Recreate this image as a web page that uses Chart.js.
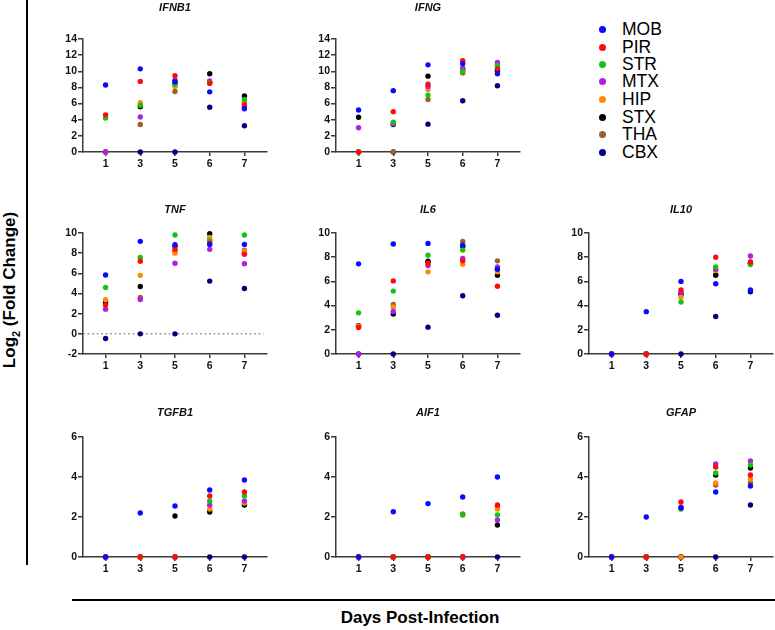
<!DOCTYPE html>
<html><head><meta charset="utf-8">
<script src="https://cdn.jsdelivr.net/npm/chart.js@4.4.1/dist/chart.umd.min.js"></script>
<style>
html,body{margin:0;padding:0;background:#fff;}
body{width:775px;height:630px;position:relative;overflow:hidden;font-family:"Liberation Sans",Arial,sans-serif;}
.panel{position:absolute;}
.vline{position:absolute;left:26px;top:0;width:2px;height:565px;background:#000;}
.hline{position:absolute;left:72px;top:599px;width:703px;height:2px;background:#000;}
.ylab{position:absolute;left:11px;top:290px;transform:translate(-50%,-50%) rotate(-90deg);white-space:nowrap;font-weight:bold;font-size:17px;color:#000;}
.xlab{position:absolute;left:420px;top:618px;transform:translate(-50%,-50%);white-space:nowrap;font-weight:bold;font-size:17px;color:#000;}
.leg{position:absolute;left:599px;height:18px;line-height:18px;font-size:17.5px;color:#000;white-space:nowrap;}
.leg i{display:inline-block;width:7px;height:7px;border-radius:50%;vertical-align:middle;margin-right:16px;position:relative;top:-1px;}
</style></head><body>
<div class="vline"></div>
<div class="hline"></div>
<div class="ylab">Log<sub style="font-size:11px">2</sub> (Fold Change)</div>
<div class="xlab">Days Post-Infection</div>
<div id="legend"></div>
<script>
// ---- data ----
const DAYS = ['1', '3', '5', '6', '7'];
const SERIES = ['MOB', 'PIR', 'STR', 'MTX', 'HIP', 'STX', 'THA', 'CBX'];
// each gene: rows in SERIES order, values for DAYS
const IFNB1 = [
  [8.3, 10.3, 8.7, 7.45, 5.35],
  [4.6, 8.75, 9.45, 8.5, 5.85],
  [4.2, 5.8, 8.4, 8.6, 6.5],
  [0, 4.35, 8.9, 8.8, 5.6],
  [0, 6.1, 8.1, 8.6, 6.0],
  [0, 5.6, 8.5, 9.7, 6.95],
  [0, 3.4, 7.5, 8.6, 6.2],
  [0, 0, 0, 5.55, 3.25]
];
const IFNG = [
  [5.2, 7.6, 10.8, 10.95, 9.7],
  [0, 5.0, 8.4, 11.3, 10.3],
  [0, 3.7, 7.05, 10.0, 10.7],
  [3.0, 3.5, 8.1, 10.4, 11.1],
  [0, 3.6, 7.75, 10.2, 10.8],
  [4.3, 3.4, 9.4, 10.2, 10.1],
  [0, 0, 6.5, 9.8, 10.2],
  [0, 0, 3.45, 6.35, 8.2]
];
const TNF = [
  [5.83, 9.17, 8.84, 8.87, 8.87],
  [2.85, 7.2, 8.4, 9.0, 7.9],
  [4.6, 7.58, 9.8, 9.2, 9.8],
  [2.45, 3.4, 7.0, 8.38, 6.95],
  [3.38, 5.8, 8.0, 9.57, 8.2],
  [3.1, 4.7, 8.7, 9.93, 8.0],
  [3.3, 3.6, 8.2, 9.3, 8.3],
  [-0.46, 0, 0, 5.23, 4.5]
];
const IL6 = [
  [7.45, 9.09, 9.14, 9.0, 7.0],
  [2.19, 6.04, 7.48, 7.7, 5.6],
  [3.4, 5.2, 8.17, 8.59, 7.0],
  [0, 3.52, 7.31, 7.9, 7.2],
  [2.3, 3.88, 6.79, 7.42, 6.8],
  [2.33, 3.3, 7.67, 8.9, 6.5],
  [2.3, 4.1, 7.6, 9.3, 7.7],
  [0, 0, 2.22, 4.82, 3.2]
];
const IL10 = [
  [0, 3.5, 6.0, 5.8, 5.3],
  [0, 0, 5.3, 8.0, 7.6],
  [0, 0, 4.3, 7.2, 7.4],
  [0, 0, 5.1, 7.0, 8.1],
  [0, 0, 4.7, 6.9, 7.6],
  [0, 0, 5.0, 6.5, 7.5],
  [0, 0, 4.9, 6.6, 7.5],
  [0, 0, 0, 3.1, 5.15]
];
const TGFB1 = [
  [0, 2.2, 2.55, 3.35, 3.85],
  [0, 0, 0, 3.05, 3.25],
  [0, 0, 0, 2.8, 3.05],
  [0, 0, 0, 2.6, 2.8],
  [0, 0, 0, 2.4, 2.7],
  [0, 0, 2.05, 2.25, 2.6],
  [0, 0, 0, 2.35, 2.65],
  [0, 0, 0, 0, 0]
];
const AIF1 = [
  [0, 2.26, 2.67, 3.0, 4.0],
  [0, 0, 0, 0, 2.6],
  [0, 0, 0, 2.1, 2.1],
  [0, 0, 0, 0, 1.85],
  [0, 0, 0, 0, 2.4],
  [0, 0, 0, 0, 1.6],
  [0, 0, 0, 2.15, 2.5],
  [0, 0, 0, 0, 0]
];
const GFAP = [
  [0, 2.0, 2.45, 3.25, 3.55],
  [0, 0, 2.75, 4.5, 4.1],
  [0, 0, 2.4, 4.2, 4.6],
  [0, 0, 2.5, 4.65, 4.8],
  [0, 0, 0, 3.7, 3.9],
  [0, 0, 0, 4.1, 4.45],
  [0, 0, 0, 3.6, 3.7],
  [0, 0, 0, 0, 2.6]
];

// ---- styles / layout ----
const COLORS = ['#0a0aff', '#ff0a0a', '#14c414', '#b01ee8', '#ff8a0a', '#000000', '#9a6126', '#00007f'];
const FONT = '"Liberation Sans", Arial, sans-serif';
const COL_X = [83, 336, 589];
const ROWS = [{top: 39, bottom: 152, gap: 31}, {top: 233, bottom: 354, gap: 23}, {top: 437, bottom: 557, gap: 24}];
const PLOT_W = 184, YW = 32, XH = 22, RP = 8;
const XMIN = -0.65, XMAX = 4.65;
const AX = '#3a3a3a';

function makePanel(title, values, col, row, yMin, yMax, zeroLine) {
  const r = ROWS[row];
  const lh = 11 * 1.2;
  const G = Math.round(r.gap + lh / 2);
  const pb = G - lh;
  const plotH = r.bottom - r.top;
  const w = YW + PLOT_W + RP;
  const h = G + plotH + XH;
  const div = document.createElement('div');
  div.className = 'panel';
  div.style.left = (COL_X[col] - YW) + 'px';
  div.style.top = (r.top - G) + 'px';
  const cv = document.createElement('canvas');
  cv.width = w; cv.height = h;
  cv.style.width = w + 'px'; cv.style.height = h + 'px';
  div.appendChild(cv);
  document.body.appendChild(div);

  const datasets = SERIES.map((s, i) => ({
    type: 'scatter',
    label: s,
    data: values[i].map((v, j) => ({x: j, y: v})),
    backgroundColor: COLORS[i],
    borderColor: COLORS[i],
    pointRadius: 2.7,
    pointBorderWidth: 0,
    pointHoverRadius: 2.7,
    clip: false,
    order: 1
  }));
  if (zeroLine) {
    datasets.push({
      type: 'line',
      label: 'zero',
      data: [{x: XMIN, y: 0}, {x: 4.55, y: 0}],
      borderColor: '#777',
      borderWidth: 1,
      borderDash: [2, 2.5],
      pointRadius: 0,
      clip: false,
      order: 10
    });
  }
  new Chart(cv, {
    type: 'scatter',
    data: {datasets},
    options: {
      responsive: false,
      animation: false,
      devicePixelRatio: 1,
      events: [],
      layout: {padding: {left: 0, right: RP, top: 0, bottom: 0}},
      plugins: {
        legend: {display: false},
        tooltip: {enabled: false},
        title: {
          display: true, text: title, fullSize: false, color: '#111',
          font: {family: FONT, size: 11, weight: 'bold', style: 'italic', lineHeight: 1.2},
          padding: {top: 0, bottom: pb}
        }
      },
      scales: {
        x: {
          type: 'linear', min: XMIN, max: XMAX,
          afterBuildTicks: sc => { sc.ticks = DAYS.map((d, i) => ({value: i})); },
          afterFit: sc => { sc.height = XH; },
          ticks: {callback: v => DAYS[v], color: '#111', padding: 2, maxRotation: 0, autoSkip: false,
                  font: {family: FONT, size: 10.5, weight: 'bold'}},
          grid: {display: true, drawOnChartArea: false, drawTicks: true, tickLength: 4, color: AX, lineWidth: 1.5},
          border: {display: true, color: AX, width: 1.5}
        },
        y: {
          type: 'linear', min: yMin, max: yMax,
          afterFit: sc => { sc.width = YW; },
          ticks: {stepSize: 2, color: '#111', padding: 1, font: {family: FONT, size: 10.5, weight: 'bold'}},
          grid: {display: true, drawOnChartArea: false, drawTicks: true, tickLength: 5, color: AX, lineWidth: 1.5},
          border: {display: true, color: AX, width: 1.5}
        }
      }
    }
  });
}

makePanel('IFNB1', IFNB1, 0, 0, 0, 14, false);
makePanel('IFNG', IFNG, 1, 0, 0, 14, false);
makePanel('TNF', TNF, 0, 1, -2, 10, true);
makePanel('IL6', IL6, 1, 1, 0, 10, false);
makePanel('IL10', IL10, 2, 1, 0, 10, false);
makePanel('TGFB1', TGFB1, 0, 2, 0, 6, false);
makePanel('AIF1', AIF1, 1, 2, 0, 6, false);
makePanel('GFAP', GFAP, 2, 2, 0, 6, false);

// legend
const LEG_Y = [29, 47, 64, 81, 99, 117, 134, 152];
const legend = document.getElementById('legend');
SERIES.forEach((s, i) => {
  const d = document.createElement('div');
  d.className = 'leg';
  d.style.top = (LEG_Y[i] - 9) + 'px';
  d.innerHTML = '<i style="background:' + COLORS[i] + '"></i>' + s;
  legend.appendChild(d);
});
</script>
</body></html>
